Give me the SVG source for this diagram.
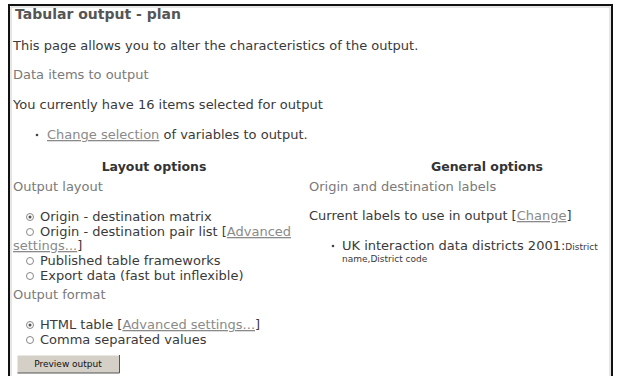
<svg xmlns="http://www.w3.org/2000/svg" width="619" height="376" viewBox="0 0 619 376">
<style>
text{font-family:"DejaVu Sans","Verdana",sans-serif;font-size:13px;fill:#3a3a3a}
.t{font-weight:bold;font-size:14px;fill:#555}
.g{fill:#7a7a7a}
.h{font-weight:bold;font-size:12.5px;fill:#333;text-anchor:middle}
.l{fill:#8a8a8a;text-decoration:underline}
.s{font-size:9px}
.r{fill:#fff;stroke:#888;stroke-width:1}
.d{fill:#555}
</style>
<rect x="0" y="0" width="619" height="376" fill="#fff"/>
<g id="frame">
<path d="M9 376 V5 H612 V376" fill="none" stroke="#111" stroke-width="2"/>
<path d="M11 376 V7 H610 V376" fill="none" stroke="#ccc" stroke-width="1"/>
</g>
<g id="header">
<text class="t" x="15" y="19">Tabular output - plan</text>
<text x="13" y="50">This page allows you to alter the characteristics of the output.</text>
<text class="g" x="13" y="79">Data items to output</text>
<text x="13" y="109">You currently have 16 items selected for output</text>
<circle cx="37" cy="135" r="1.3" fill="#444"/>
<text x="47" y="139"><tspan class="l">Change selection</tspan> of variables to output.</text>
</g>
<g id="layout-options">
<text class="h" x="154" y="171">Layout options</text>
<text class="g" x="13" y="191">Output layout</text>
<circle class="r" cx="30" cy="217" r="3.5"/><circle class="d" cx="30" cy="217" r="1.5"/>
<text x="40" y="221">Origin - destination matrix</text>
<circle class="r" cx="30" cy="232" r="3.5"/>
<text x="40" y="236">Origin - destination pair list [<tspan class="l">Advanced</tspan></text>
<text x="13" y="250"><tspan class="l">settings...</tspan>]</text>
<circle class="r" cx="30" cy="261" r="3.5"/>
<text x="40" y="265">Published table frameworks</text>
<circle class="r" cx="30" cy="276" r="3.5"/>
<text x="40" y="280">Export data (fast but inflexible)</text>
<text class="g" x="13" y="299">Output format</text>
<circle class="r" cx="30" cy="325" r="3.5"/><circle class="d" cx="30" cy="325" r="1.5"/>
<text x="40" y="329">HTML table [<tspan class="l">Advanced settings...</tspan>]</text>
<circle class="r" cx="30" cy="340" r="3.5"/>
<text x="40" y="344">Comma separated values</text>
</g>
<g id="preview-button">
<rect x="17" y="355" width="103" height="18" fill="#d4d0c8"/>
<path d="M17 373 V355 H120" fill="none" stroke="#fff" stroke-width="1"/>
<path d="M17.5 373 H119.5 V355" fill="none" stroke="#555" stroke-width="1"/>
<text x="68" y="367" text-anchor="middle" style="font-size:9px;fill:#111">Preview output</text>
</g>
<g id="general-options">
<text class="h" x="487" y="171">General options</text>
<text class="g" x="309" y="191">Origin and destination labels</text>
<text x="309" y="220">Current labels to use in output [<tspan class="l">Change</tspan>]</text>
<circle cx="333" cy="246" r="1.3" fill="#444"/>
<text x="342" y="250">UK interaction data districts 2001:<tspan class="s">District</tspan></text>
<text class="s" x="342" y="262">name,District code</text>
</g>
</svg>
